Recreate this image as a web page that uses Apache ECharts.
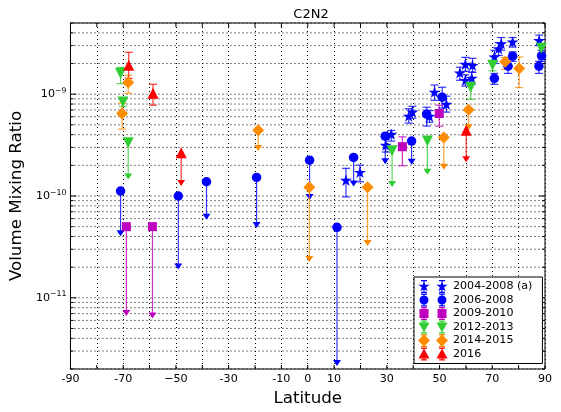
<!DOCTYPE html>
<html><head><meta charset="utf-8">
<script src="https://cdn.jsdelivr.net/npm/echarts@6/dist/echarts.min.js"></script>
<style>html,body{margin:0;padding:0;background:#fff}#c{width:561px;height:412px}</style>
</head><body><div id="c"></div><script>
// ---------------- DATA ----------------
const seriesNames = ['2004-2008 (a)','2006-2008','2009-2010','2012-2013','2014-2015','2016'];
const xTickVals = [-90,-70,-50,-30,-10,0,10,30,50,70,90];
const xTickText = ['-90','-70','\u221250','-30','-10','0','10','30','50','70','90'];
const yDecadeExps = [-12,-11,-10,-9];
const yMinorMults = [1,2,3,4,5,6,7,8,9];

// 2004-2008 (a) — stars
const lat_0408 = [14.5,19.8,29.6,31.7,38.3,39.7,46.2,48.1,52.6,57.7,59.8,62.5,59.8,62.2,70.8,72.4,73.4,77.7,87.8];
const val_0408 = [1.43e-10,1.71e-10,3.16e-10,4.05e-10,6.09e-10,6.7e-10,6.08e-10,1.05e-9,7.98e-10,1.62e-9,1.97e-9,1.92e-9,1.37e-9,1.44e-9,2.32e-9,2.8e-9,3.14e-9,3.26e-9,3.38e-9];
const lo_0408  = [9.8e-11,1.38e-10,2.7e-10,3.46e-10,5.2e-10,5.8e-10,5.3e-10,8.7e-10,6.66e-10,1.37e-9,1.68e-9,1.64e-9,1.2e-9,1.25e-9,2.0e-9,2.4e-9,2.7e-9,2.9e-9,3.0e-9];
const hi_0408  = [1.87e-10,2.01e-10,3.6e-10,4.4e-10,7.2e-10,7.6e-10,6.9e-10,1.23e-9,9.56e-10,1.84e-9,2.3e-9,2.25e-9,1.55e-9,1.65e-9,2.7e-9,3.2e-9,3.6e-9,3.6e-9,3.8e-9];
const lim_0408 = [null,null,null,null,null,null,null,null,null,null,null,null,null,null,null,null,null,null,null];

// 2006-2008 — circles
const lat_0608 = [-71,-49.1,-38.4,-19.4,0.7,11.1,17.4,29.4,39.4,45.1,51,70.8,77.7,76,87.7,88.7];
const val_0608 = [1.12e-10,1.0e-10,1.38e-10,1.52e-10,2.25e-10,4.93e-11,2.39e-10,3.87e-10,3.46e-10,6.37e-10,9.35e-10,1.43e-9,2.36e-9,1.88e-9,1.88e-9,2.38e-9];
const lo_0608  = [null,null,null,null,null,null,null,null,null,4.86e-10,7.3e-10,1.25e-9,2.1e-9,1.6e-9,1.6e-9,2.1e-9];
const hi_0608  = [null,null,null,null,null,null,null,null,null,7.45e-10,1.17e-9,1.6e-9,2.6e-9,2.2e-9,2.1e-9,2.7e-9];
const lim_0608 = [4.3e-11,2.03e-11,6.27e-11,5.2e-11,9.8e-11,2.29e-12,1.33e-10,2.2e-10,2.17e-10,null,null,null,null,null,null,null];

// 2009-2010 — squares
const lat_0910 = [-68.8,-58.9,35.9,49.9];
const val_0910 = [5e-11,5e-11,3.05e-10,6.46e-10];
const lo_0910  = [null,null,1.98e-10,4.85e-10];
const hi_0910  = [null,null,3.81e-10,7.8e-10];
const lim_0910 = [7.1e-12,6.7e-12,null,null];

// 2012-2013 — down triangles
const lat_1213 = [-71,-70.1,-68.1,32,45.4,61.8,70.1,88.6];
const val_1213 = [1.6e-9,8.4e-10,3.33e-10,2.78e-10,3.46e-10,1.17e-9,1.92e-9,2.82e-9];
const lo_1213  = [1.27e-9,7.6e-10,null,null,null,8.9e-10,1.7e-9,2.5e-9];
const hi_1213  = [1.83e-9,9.2e-10,null,null,null,1.28e-9,2.1e-9,3.1e-9];
const lim_1213 = [null,null,1.55e-10,1.31e-10,1.73e-10,null,null,null];

// 2014-2015 — diamonds
const lat_1415 = [-68.1,-70.4,-18.8,0.6,22.7,51.6,61,74.9,80.2];
const val_1415 = [1.3e-9,6.47e-10,4.43e-10,1.22e-10,1.22e-10,3.76e-10,7.05e-10,2.08e-9,1.79e-9];
const lo_1415  = [1.02e-9,4.54e-10,null,null,null,null,null,1.75e-9,1.16e-9];
const hi_1415  = [1.53e-9,8.2e-10,null,null,null,null,null,2.3e-9,2.32e-9];
const lim_1415 = [null,null,2.96e-10,2.41e-11,3.46e-11,1.94e-10,4.74e-10,null,null];

// 2016 — up triangles
const lat_2016 = [-67.9,-58.7,-48,60.1];
const val_2016 = [1.92e-9,1.02e-9,2.66e-10,4.43e-10];
const lo_2016  = [1.43e-9,7.8e-10,null,null];
const hi_2016  = [2.58e-9,1.25e-9,null,null];
const lim_2016 = [null,null,1.34e-10,2.3e-10];

// ---------------- STYLE / BUILD ----------------
const FONT = 'DejaVu Sans';
const Y_MIN = 2e-12, Y_MAX = 5e-9, X_MIN = -90, X_MAX = 90;
const colors = ['#0000ff','#0000ff','#bf00bf','#32cd32','#ff8c00','#ff0000'];
const shapes = ['star','circle','square','tridown','diamond','triup'];
const groups = [
  [lat_0408,val_0408,lo_0408,hi_0408,lim_0408],
  [lat_0608,val_0608,lo_0608,hi_0608,lim_0608],
  [lat_0910,val_0910,lo_0910,hi_0910,lim_0910],
  [lat_1213,val_1213,lo_1213,hi_1213,lim_1213],
  [lat_1415,val_1415,lo_1415,hi_1415,lim_1415],
  [lat_2016,val_2016,lo_2016,hi_2016,lim_2016]
];

function f(n){return n.toFixed(2);}
function starPts(cx,cy,R){
  const r = R*0.382; let d='';
  for(let k=0;k<10;k++){
    const a=-Math.PI/2+k*Math.PI/5, rr=(k%2)?r:R;
    d+=(k?'L':'M')+f(cx+rr*Math.cos(a))+','+f(cy+rr*Math.sin(a))+' ';
  }
  return d+'Z ';
}
function shapePath(s,cx,cy){
  switch(s){
    case 'star': return starPts(cx,cy,6);
    case 'circle': {const r=4.5; return `M${f(cx-r)},${f(cy)} A${r},${r} 0 1 1 ${f(cx+r)},${f(cy)} A${r},${r} 0 1 1 ${f(cx-r)},${f(cy)} Z `;}
    case 'square': return `M${f(cx-4.5)},${f(cy-4.5)} L${f(cx+4.5)},${f(cy-4.5)} L${f(cx+4.5)},${f(cy+4.5)} L${f(cx-4.5)},${f(cy+4.5)} Z `;
    case 'tridown': return `M${f(cx-5.5)},${f(cy-4.5)} L${f(cx+5.5)},${f(cy-4.5)} L${f(cx)},${f(cy+5.5)} Z `;
    case 'diamond': return `M${f(cx)},${f(cy-6)} L${f(cx+6)},${f(cy)} L${f(cx)},${f(cy+6)} L${f(cx-6)},${f(cy)} Z `;
    case 'triup': return `M${f(cx)},${f(cy-5.5)} L${f(cx+5.5)},${f(cy+4.5)} L${f(cx-5.5)},${f(cy+4.5)} Z `;
  }
}
function errRects(cx){
  return `M${f(cx-0.6)},0 L${f(cx+0.6)},0 L${f(cx+0.6)},13 L${f(cx-0.6)},13 Z `+
         `M${f(cx-3)},0 L${f(cx+3)},0 L${f(cx+3)},1.2 L${f(cx-3)},1.2 Z `+
         `M${f(cx-3)},11.8 L${f(cx+3)},11.8 L${f(cx+3)},13 L${f(cx-3)},13 Z `;
}
function legendIcon(s){
  return 'path://'+errRects(6)+errRects(24)+shapePath(s,6,6.5)+shapePath(s,24,6.5);
}
const symbolFor = {
  star: {symbol:'path://'+starPts(0,0,10), size:12, rotate:0},
  circle: {symbol:'circle', size:9.5, rotate:0},
  square: {symbol:'rect', size:9, rotate:0},
  tridown: {symbol:'triangle', size:[11,11], rotate:180},
  diamond: {symbol:'diamond', size:[12,12], rotate:0},
  triup: {symbol:'triangle', size:[11,11], rotate:0}
};

function renderErr(params, api){
  const x=api.value(0), lo=api.value(1), hi=api.value(2);
  const p1=api.coord([x,lo]), p2=api.coord([x,hi]);
  const st={stroke:api.visual('color'), lineWidth:1.2, opacity:0.8};
  const w=4;
  return {type:'group', children:[
    {type:'line', shape:{x1:p1[0],y1:p1[1],x2:p2[0],y2:p2[1]}, style:st},
    {type:'line', shape:{x1:p1[0]-w,y1:p1[1],x2:p1[0]+w,y2:p1[1]}, style:st},
    {type:'line', shape:{x1:p2[0]-w,y1:p2[1],x2:p2[0]+w,y2:p2[1]}, style:st}
  ]};
}
function renderArrow(params, api){
  const x=api.value(0), v=api.value(1), to=api.value(2);
  const p1=api.coord([x,v]), p2=api.coord([x,to]);
  const c=api.visual('color');
  return {type:'group', children:[
    {type:'line', shape:{x1:p1[0],y1:p1[1],x2:p2[0],y2:p2[1]}, style:{stroke:c, lineWidth:1.2, opacity:0.8}},
    {type:'polygon', shape:{points:[[p2[0]-4,p2[1]-3],[p2[0]+4,p2[1]-3],[p2[0],p2[1]+3]]}, style:{fill:c}}
  ]};
}

// y grid values (decades + minor multiples within the axis range)
const yGrid = [];
yDecadeExps.forEach(e=>yMinorMults.forEach(m=>{
  const v = m*Math.pow(10,e);
  if(v>=Y_MIN*0.999 && v<=Y_MAX*1.001) yGrid.push([X_MIN, v, m===1?1:0]);
}));
function renderYGrid(params, api){
  const v=api.value(1), maj=api.value(2);
  const pl=api.coord([X_MIN,v]), pr=api.coord([X_MAX,v]);
  const len = maj?6:3;
  return {type:'group', children:[
    {type:'line', shape:{x1:pl[0],y1:pl[1],x2:pr[0],y2:pr[1]}, style:{stroke:'#000', lineWidth:1, lineDash:[1,3]}},
    {type:'line', shape:{x1:pl[0],y1:pl[1],x2:pl[0]+len,y2:pl[1]}, style:{stroke:'#000', lineWidth:1}},
    {type:'line', shape:{x1:pr[0]-len,y1:pr[1],x2:pr[0],y2:pr[1]}, style:{stroke:'#000', lineWidth:1}}
  ]};
}
const xTickData = [];
for(let x=X_MIN;x<=X_MAX;x+=10) xTickData.push([x, Y_MIN]);
function renderXTicks(params, api){
  const x=api.value(0);
  const pb=api.coord([x,Y_MIN]), pt=api.coord([x,Y_MAX]);
  return {type:'group', children:[
    {type:'line', shape:{x1:pb[0],y1:pb[1],x2:pb[0],y2:pb[1]-4}, style:{stroke:'#000', lineWidth:1}},
    {type:'line', shape:{x1:pt[0],y1:pt[1],x2:pt[0],y2:pt[1]+4}, style:{stroke:'#000', lineWidth:1}}
  ]};
}

const series = [
  {type:'custom', name:'_ygrid', data:yGrid, renderItem:renderYGrid, z:1, silent:true, clip:false},
  {type:'custom', name:'_xticks', data:xTickData, renderItem:renderXTicks, z:1, silent:true, clip:false}
];
groups.forEach((g,i)=>{
  const [lat,val,lo,hi,lim]=g;
  const err=[], arr=[], pts=[];
  lat.forEach((x,j)=>{
    pts.push([x,val[j]]);
    if(lo[j]!=null && hi[j]!=null) err.push([x,lo[j],hi[j]]);
    if(lim[j]!=null) arr.push([x,val[j],lim[j]]);
  });
  series.push({type:'custom', name:'_err'+i, data:err, renderItem:renderErr, itemStyle:{color:colors[i]}, z:2+i, silent:true});
  series.push({type:'custom', name:'_arr'+i, data:arr, renderItem:renderArrow, itemStyle:{color:colors[i]}, z:2+i, silent:true});
  const sy=symbolFor[shapes[i]];
  series.push({type:'scatter', name:seriesNames[i], data:pts, symbol:sy.symbol, symbolSize:sy.size,
    symbolRotate:sy.rotate, symbolKeepAspect:true, itemStyle:{color:colors[i], opacity:1}, z:10+i, silent:true});
});

const chart = echarts.init(document.getElementById('c'), null, {renderer:'canvas'});
chart.setOption({
  animation:false,
  backgroundColor:'#fff',
  title:{text:'C2N2', left:306, top:3, textAlign:'center',
    textStyle:{fontFamily:FONT, fontSize:13, fontWeight:'normal', color:'#000'}},
  grid:{left:68, right:16, top:23, bottom:43, show:true, borderColor:'#000', borderWidth:1, backgroundColor:'transparent'},
  legend:{
    orient:'vertical', left:414, top:277, itemWidth:30, itemHeight:13, itemGap:0.5,
    padding:[3,10,3,4], borderColor:'#000', borderWidth:1, backgroundColor:'#fff', borderRadius:0,
    textStyle:{fontFamily:FONT, fontSize:11.1, color:'#000'},
    data: seriesNames.map((n,i)=>({name:n, icon:legendIcon(shapes[i])})),
    selectedMode:false, z:20
  },
  xAxis:{
    type:'value', min:X_MIN, max:X_MAX, interval:10,
    axisLine:{show:false}, axisTick:{show:false},
    axisLabel:{fontFamily:FONT, fontSize:11.1, color:'#000', margin:5,
      formatter:v=>{const k=xTickVals.indexOf(Math.round(v)); return k>=0?xTickText[k]:'';}},
    splitLine:{show:true, lineStyle:{color:'#000', width:1, type:[1,3]}},
    name:'Latitude', nameLocation:'middle', nameGap:20,
    nameTextStyle:{fontFamily:FONT, fontSize:16.7, color:'#000'}
  },
  yAxis:{
    type:'log', logBase:10, min:Y_MIN, max:Y_MAX,
    axisLine:{show:false}, axisTick:{show:false}, splitLine:{show:false},
    axisLabel:{fontFamily:FONT, color:'#000', margin:4,
      formatter:v=>{const l=Math.log10(v), e=Math.round(l); if(Math.abs(l-e)>1e-6) return ''; return '{b|10}{s|\u2212'+(-e)+'}';},
      rich:{b:{fontFamily:FONT, fontSize:11.1, color:'#000'}, s:{fontFamily:FONT, fontSize:7.8, color:'#000', padding:[0,0,7,0]}}},
    name:'Volume Mixing Ratio', nameLocation:'middle', nameGap:38,
    nameTextStyle:{fontFamily:FONT, fontSize:16.7, color:'#000'}
  },
  series: series
});
</script></body></html>
